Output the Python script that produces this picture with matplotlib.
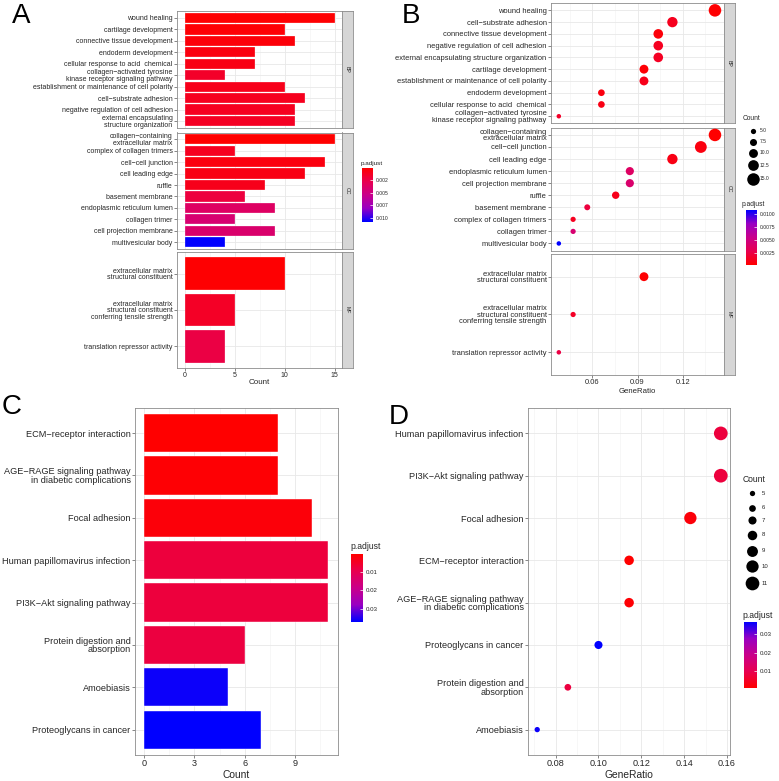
import numpy as np
import matplotlib
matplotlib.use("Agg")
import matplotlib.pyplot as plt
from matplotlib.colors import LinearSegmentedColormap, Normalize
from matplotlib.cm import ScalarMappable
from matplotlib.patches import Rectangle

plt.rcParams["font.family"] = ["Liberation Sans", "DejaVu Sans"]

W, H = 779, 781
TXT = "#262626"
BORDER = "#8C8C8C"

# GO terms, in the order of the bar chart (top to bottom)
bp_terms = [
    "wound healing",
    "cartilage development",
    "connective tissue development",
    "endoderm development",
    "cellular response to acid  chemical",
    "collagen\u2212activated tyrosine\nkinase receptor signaling pathway",
    "establishment or maintenance of cell polarity",
    "cell\u2212substrate adhesion",
    "negative regulation of cell adhesion",
    "external encapsulating\nstructure organization",
]
bp_count = [15, 10, 11, 7, 7, 4, 10, 12, 11, 11]
bp_padj = [0.0002, 0.0003, 0.0004, 0.0006, 0.0008, 0.0015, 0.0010, 0.0011, 0.0012, 0.0013]
bp_ratio = [0.1415, 0.0943, 0.1038, 0.0660, 0.0660, 0.0377, 0.0943, 0.1132, 0.1038, 0.1038]

cc_terms = [
    "collagen\u2212containing\nextracellular matrix",
    "complex of collagen trimers",
    "cell\u2212cell junction",
    "cell leading edge",
    "ruffle",
    "basement membrane",
    "endoplasmic reticulum lumen",
    "collagen trimer",
    "cell projection membrane",
    "multivesicular body",
]
cc_count = [15, 5, 14, 12, 8, 6, 9, 5, 9, 4]
cc_padj = [0.0001, 0.0012, 0.0006, 0.0008, 0.0010, 0.0022, 0.0036, 0.0042, 0.0040, 0.0107]
cc_ratio = [0.1415, 0.0472, 0.1321, 0.1132, 0.0755, 0.0566, 0.0849, 0.0472, 0.0849, 0.0377]

mf_terms = [
    "extracellular matrix\nstructural constituent",
    "extracellular matrix\nstructural constituent\nconferring tensile strength",
    "translation repressor activity",
]
mf_count = [10, 5, 4]
mf_padj = [0.0002, 0.0014, 0.0024]
mf_ratio = [0.0943, 0.0472, 0.0377]

# order of the GO terms in the dot plot (index into the lists above)
bp_dot_order = [0, 7, 2, 8, 9, 1, 6, 3, 4, 5]
cc_dot_order = [0, 2, 3, 6, 8, 4, 5, 1, 7, 9]
mf_dot_order = [0, 1, 2]
bp_dot_labels = [t.replace("\n", " ") for t in bp_terms]
bp_dot_labels[5] = "collagen\u2212activated tyrosine\nkinase receptor signaling pathway"

# KEGG pathways, bar chart order
kegg_terms = [
    "ECM\u2212receptor interaction",
    "AGE\u2212RAGE signaling pathway\nin diabetic complications",
    "Focal adhesion",
    "Human papillomavirus infection",
    "PI3K\u2212Akt signaling pathway",
    "Protein digestion and\nabsorption",
    "Amoebiasis",
    "Proteoglycans in cancer",
]
kegg_count = [8, 8, 10, 11, 11, 6, 5, 7]
kegg_padj = [0.0005, 0.0010, 0.0015, 0.0075, 0.0075, 0.0080, 0.0362, 0.0370]
kegg_ratio = [0.1143, 0.1143, 0.1429, 0.1571, 0.1571, 0.0857, 0.0714, 0.1000]
kegg_dot_order = [3, 4, 2, 0, 1, 7, 5, 6]

cmap = LinearSegmentedColormap.from_list(
    "padj", ["#FF0000", "#E8004F", "#C9008A", "#9900C2", "#0000FF"])

go_padj_all = bp_padj + cc_padj + mf_padj
go_norm = Normalize(min(go_padj_all), max(go_padj_all))
kegg_norm = Normalize(min(kegg_padj), max(kegg_padj))

fig = plt.figure(figsize=(W / 100, H / 100), dpi=100)


def px_axes(x0, y0, x1, y1):
    return fig.add_axes([x0 / W, 1 - y1 / H, (x1 - x0) / W, (y1 - y0) / H])


def style(ax, xmajor, xminor, fs, show_x=True):
    ax.set_facecolor("white")
    for sp in ax.spines.values():
        sp.set_color(BORDER)
        sp.set_linewidth(0.6)
    ax.set_xticks(xmajor)
    ax.set_xticks(xminor, minor=True)
    ax.grid(which="major", color="#E8E8E8", linewidth=0.6)
    ax.grid(which="minor", axis="x", color="#F2F2F2", linewidth=0.4)
    ax.set_axisbelow(True)
    ax.tick_params(axis="both", which="major", length=2, width=0.5,
                   color="#555555", labelsize=fs, labelcolor=TXT, pad=1.2)
    ax.tick_params(which="minor", length=0)
    if not show_x:
        ax.tick_params(axis="x", labelbottom=False, length=0)


def strip(x0, y0, x1, y1, label):
    s = px_axes(x0, y0, x1, y1)
    s.set_facecolor("#D6D6D6")
    s.set_xticks([])
    s.set_yticks([])
    for sp in s.spines.values():
        sp.set_color(BORDER)
        sp.set_linewidth(0.6)
    s.text(0.5, 0.5, label, rotation=-90, ha="center", va="center",
           fontsize=3.8, color=TXT, transform=s.transAxes)


def colorbar(x0, y0, x1, y1, norm, ticks, labels, fs, flip):
    cax = px_axes(x0, y0, x1, y1)
    cb = fig.colorbar(ScalarMappable(norm=norm, cmap=cmap), cax=cax)
    cb.outline.set_visible(False)
    cb.set_ticks(ticks)
    cb.set_ticklabels(labels)
    cax.tick_params(labelsize=fs, length=2, width=0.5, color="white",
                    direction="in", pad=2, labelcolor=TXT)
    if flip:
        cax.invert_yaxis()


# ---------------- panel A : GO bar chart ----------------
go_facets = [
    ("BP", bp_terms, bp_count, bp_padj, 11, 128),
    ("CC", cc_terms, cc_count, cc_padj, 132.5, 249),
    ("MF", mf_terms, mf_count, mf_padj, 252, 368),
]
for k, (name, terms, counts, padj, top, bottom) in enumerate(go_facets):
    ax = px_axes(177, top, 342, bottom)
    n = len(terms)
    y = np.arange(n)[::-1]
    ax.barh(y, counts, height=0.9, color=cmap(go_norm(np.array(padj))),
            edgecolor="white", linewidth=0.2)
    ax.set_xlim(-0.75, 15.75)
    ax.set_ylim(-0.6, n - 0.4)
    style(ax, [0, 5, 10, 15], [2.5, 7.5, 12.5], 5.0, show_x=(k == 2))
    ax.set_yticks(y)
    ax.set_yticklabels(terms, linespacing=0.9)
    strip(342, top, 352.5, bottom, name)
fig.text(259.5 / W, 1 - 383 / H, "Count", ha="center", va="center",
         fontsize=5.8, color=TXT)

colorbar(361.7, 168, 372.7, 221.7, go_norm, [0.0025, 0.005, 0.0075, 0.01],
         ["0.002", "0.005", "0.007", "0.010"], 3.6, flip=True)
fig.text(361 / W, 1 - 163 / H, "p.adjust", ha="left", va="center",
         fontsize=4.6, color=TXT)


# ---------------- panel B : GO dot plot ----------------
def dot_diam_go(c):
    return 4.5 + (np.asarray(c, float) - 4) * 0.73


go_dot_facets = [
    ("BP", bp_dot_order, bp_dot_labels, bp_count, bp_padj, bp_ratio, 3.3, 123.3),
    ("CC", cc_dot_order, cc_terms, cc_count, cc_padj, cc_ratio, 127.7, 250.7),
    ("MF", mf_dot_order, mf_terms, mf_count, mf_padj, mf_ratio, 254, 375),
]
for k, (name, order, labels, counts, padj, ratio, top, bottom) in enumerate(go_dot_facets):
    ax = px_axes(551, top, 724, bottom)
    n = len(order)
    y = np.arange(n)[::-1]
    r = np.array(ratio)[order]
    c = np.array(counts)[order]
    p = np.array(padj)[order]
    ax.scatter(r, y, s=(dot_diam_go(c) * 0.72) ** 2, c=cmap(go_norm(p)),
               linewidths=0, zorder=3)
    ax.set_xlim(0.0325, 0.1475)
    ax.set_ylim(-0.6, n - 0.4)
    style(ax, [0.06, 0.09, 0.12], [0.045, 0.075, 0.105, 0.135], 5.4,
          show_x=(k == 2))
    ax.set_yticks(y)
    ax.set_yticklabels([labels[i] for i in order], linespacing=0.9)
    strip(724, top, 735, bottom, name)

# overlay in pixel coordinates for legends and letters
ov = fig.add_axes([0, 0, 1, 1], zorder=10)
ov.set_xlim(0, W)
ov.set_ylim(H, 0)
ov.axis("off")
ov.patch.set_alpha(0)

go_size_breaks = [5.0, 7.5, 10.0, 12.5, 15.0]
go_key_y = [130.7, 141.7, 152.7, 165.3, 179]
ov.text(743, 118, "Count", ha="left", va="center", fontsize=4.8, color=TXT)
for b, yy in zip(go_size_breaks, go_key_y):
    ov.scatter([753], [yy], s=(dot_diam_go(b) * 0.72) ** 2, color="black",
               linewidths=0)
    ov.text(760, yy, f"{b:.1f}", ha="left", va="center", fontsize=3.6, color=TXT)

colorbar(745.7, 210, 757.3, 265, go_norm, [0.0025, 0.005, 0.0075, 0.01],
         ["0.0025", "0.0050", "0.0075", "0.0100"], 3.6, flip=False)
ov.text(742, 204, "p.adjust", ha="left", va="center", fontsize=4.8, color=TXT)

# B's x title, mostly hidden under panel D
ov.text(637, 391.5, "GeneRatio", ha="center", va="center", fontsize=5.6, color=TXT)
ov.add_patch(Rectangle((560, 392.3), 160, 8, facecolor="white", edgecolor="none"))

# ---------------- panel C : KEGG bar chart ----------------
ax = px_axes(135, 407.7, 337.7, 755)
n = len(kegg_terms)
y = np.arange(n)[::-1]
ax.barh(y, kegg_count, height=0.9, color=cmap(kegg_norm(np.array(kegg_padj))),
        edgecolor="white", linewidth=0.3)
ax.set_xlim(-0.55, 11.55)
ax.set_ylim(-0.6, n - 0.4)
style(ax, [0, 3, 6, 9], [1.5, 4.5, 7.5, 10.5], 6.6)
ax.set_yticks(y)
ax.set_yticklabels(kegg_terms, linespacing=0.9)
ax.set_xlabel("Count", fontsize=7.4, color=TXT, labelpad=1)

colorbar(351, 554.3, 363.3, 621.7, kegg_norm, [0.01, 0.02, 0.03],
         ["0.01", "0.02", "0.03"], 4.4, flip=True)
fig.text(350 / W, 1 - 546.5 / H, "p.adjust", ha="left", va="center",
         fontsize=6.2, color=TXT)


# ---------------- panel D : KEGG dot plot ----------------
def dot_diam_kegg(c):
    return 5.3 + (np.asarray(c, float) - 5) * 1.4


ax = px_axes(528, 408, 730, 755)
r = np.array(kegg_ratio)[kegg_dot_order]
c = np.array(kegg_count)[kegg_dot_order]
p = np.array(kegg_padj)[kegg_dot_order]
ax.scatter(r, y, s=(dot_diam_kegg(c) * 0.72) ** 2, c=cmap(kegg_norm(p)),
           linewidths=0, zorder=3)
ax.set_xlim(0.0671, 0.1614)
ax.set_ylim(-0.6, n - 0.4)
style(ax, [0.08, 0.10, 0.12, 0.14, 0.16], [0.07, 0.09, 0.11, 0.13, 0.15], 6.6)
ax.set_xticklabels(["0.08", "0.10", "0.12", "0.14", "0.16"])
ax.set_yticks(y)
ax.set_yticklabels([kegg_terms[i] for i in kegg_dot_order], linespacing=0.9)
ax.set_xlabel("GeneRatio", fontsize=7.4, color=TXT, labelpad=1)

kegg_size_breaks = [5, 6, 7, 8, 9, 10, 11]
kegg_key_y = [493.3, 507.7, 520, 535, 550.7, 566, 583.3]
ov.text(743, 479, "Count", ha="left", va="center", fontsize=6.2, color=TXT)
for b, yy in zip(kegg_size_breaks, kegg_key_y):
    ov.scatter([752.3], [yy], s=(dot_diam_kegg(b) * 0.72) ** 2, color="black",
               linewidths=0)
    ov.text(762, yy, str(b), ha="left", va="center", fontsize=4.3, color=TXT)

colorbar(744, 621.7, 757.3, 688.3, kegg_norm, [0.01, 0.02, 0.03],
         ["0.01", "0.02", "0.03"], 4.4, flip=False)
ov.text(742, 615, "p.adjust", ha="left", va="center", fontsize=6.2, color=TXT)

# panel letters
for letter, lx, ly in [("A", 12, 16), ("B", 402, 16), ("C", 2, 407.5), ("D", 389, 417.5)]:
    ov.text(lx, ly, letter, ha="left", va="center", fontsize=20, color="black")

fig.savefig("out.png", dpi=100)
